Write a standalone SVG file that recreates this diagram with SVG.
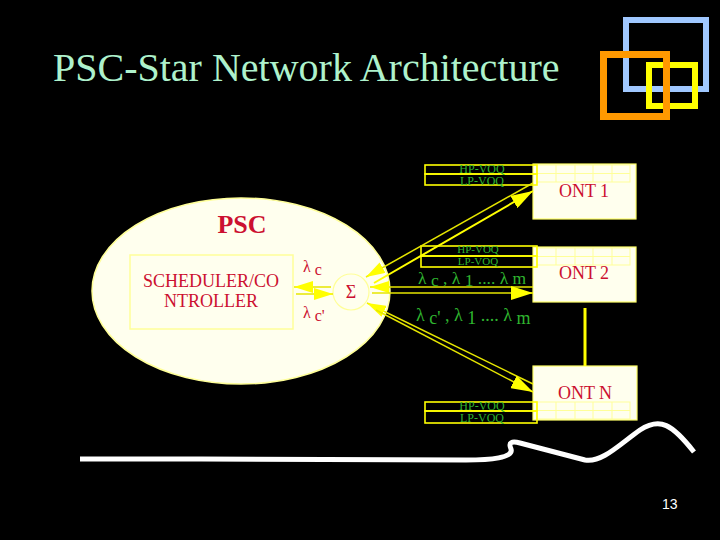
<svg xmlns="http://www.w3.org/2000/svg" width="720" height="540" viewBox="0 0 720 540">
<defs>
<style>
.serif{font-family:"Liberation Serif","Times New Roman",serif}
.red{fill:#cc1030}
.green{fill:#2fb52f}
.voq{fill:none;stroke:#ffff00;stroke-width:1.6}
.voqt{font-family:"Liberation Serif",serif;font-size:12px;fill:#2fb52f;text-anchor:middle}
.ont{fill:#ffffee;stroke:#ffff66;stroke-width:1.2}
.grid{fill:none;stroke:#ffff99;stroke-width:1}
.ontt{font-family:"Liberation Serif",serif;font-size:18px;fill:#cc1030;text-anchor:middle}
.ln{stroke:#e6e600;stroke-width:1.5;fill:none}
.lnb{stroke:#ffff00;stroke-width:2;fill:none}
</style>
<marker id="big" viewBox="0 0 22 14" refX="22" refY="7" markerWidth="22" markerHeight="14" markerUnits="userSpaceOnUse" orient="auto"><path d="M0,0 L22,7 L0,14 z" fill="#ffff00"/></marker>
<marker id="small" viewBox="0 0 19 12" refX="19" refY="6" markerWidth="19" markerHeight="12" markerUnits="userSpaceOnUse" orient="auto"><path d="M0,0 L19,6 L0,12 z" fill="#ffff00"/></marker>
</defs>
<rect width="720" height="540" fill="#000"/>

<g id="title"><text x="53" y="81" class="serif" font-size="40" fill="#aef2cc">PSC-Star Network Architecture</text></g>

<g id="logo" fill="none">
<rect x="626" y="20" width="80" height="69" stroke="#a0c8ff" stroke-width="6"/>
<rect x="649" y="65" width="46" height="41" stroke="#ffff00" stroke-width="6"/>
<rect x="603.5" y="54.5" width="63" height="62" stroke="#ff9900" stroke-width="7"/>
</g>

<g id="psc">
<ellipse cx="241" cy="291" rx="149" ry="93" fill="#ffffee" stroke="#ffff99" stroke-width="1.5"/>
<text x="242" y="233" class="serif red" font-size="26" font-weight="bold" text-anchor="middle">PSC</text>
</g>

<g id="scheduler">
<rect x="130" y="255" width="163" height="74" fill="#ffffee" stroke="#ffff99" stroke-width="1.5"/>
<text x="211" y="287" class="serif red" font-size="18" text-anchor="middle">SCHEDULER/CO</text>
<text x="211" y="307" class="serif red" font-size="18" text-anchor="middle">NTROLLER</text>
</g>

<g id="sigma">
<circle cx="351" cy="292" r="18" fill="#ffffee" stroke="#ffff99" stroke-width="1.2"/>
<text x="351" y="298" class="serif red" font-size="18" text-anchor="middle">Σ</text>
</g>

<g id="ont1">
<rect x="533" y="164" width="103" height="55" class="ont"/>
<rect x="537" y="165" width="93" height="17" class="grid"/>
<path d="M537,173.5H630M556,165V182M575,165V182M593,165V182M612,165V182" class="grid"/>
<text x="584" y="197" class="ontt">ONT 1</text>
</g>
<g id="voq1">
<rect x="425" y="165" width="112" height="9" class="voq"/>
<rect x="425" y="174" width="112" height="11" class="voq"/>
<text x="482" y="172.5" class="voqt">HP-VOQ</text>
<text x="482" y="185" class="voqt">LP-VOQ</text>
</g>

<g id="ont2">
<rect x="533" y="247" width="103" height="55" class="ont"/>
<rect x="537" y="248" width="93" height="17" class="grid"/>
<path d="M537,256.5H630M556,248V265M575,248V265M593,248V265M612,248V265" class="grid"/>
<text x="584" y="279" class="ontt">ONT 2</text>
</g>
<g id="voq2">
<rect x="421" y="246" width="116" height="10" class="voq"/>
<rect x="421" y="256" width="116" height="11" class="voq"/>
<text x="478" y="253" class="voqt" font-size="11" style="font-size:11px">HP-VOQ</text>
<text x="478" y="265" class="voqt" style="font-size:11px">LP-VOQ</text>
</g>

<g id="ontn">
<rect x="533" y="366" width="104" height="54" class="ont"/>
<rect x="537" y="402" width="93" height="17" class="grid"/>
<path d="M537,410.5H630M556,402V419M575,402V419M593,402V419M612,402V419" class="grid"/>
<text x="585" y="399" class="ontt">ONT N</text>
</g>
<g id="voqn">
<rect x="425" y="402" width="112" height="9" class="voq"/>
<rect x="425" y="411" width="112" height="12" class="voq"/>
<text x="482" y="409.5" class="voqt">HP-VOQ</text>
<text x="482" y="422" class="voqt">LP-VOQ</text>
</g>

<g id="connectors">
<line x1="533" y1="183" x2="366" y2="277" class="ln" marker-end="url(#small)"/>
<line x1="374" y1="283" x2="533" y2="191" class="lnb" marker-end="url(#big)"/>
<line x1="533" y1="287" x2="370" y2="287" class="ln" marker-end="url(#small)"/>
<line x1="372" y1="293" x2="533" y2="293" class="ln" marker-end="url(#big)"/>
<line x1="533" y1="384" x2="367" y2="303" class="ln" marker-end="url(#small)"/>
<line x1="376" y1="310" x2="533" y2="392" class="ln" marker-end="url(#big)"/>
<line x1="331" y1="287" x2="294" y2="287" class="ln" marker-end="url(#small)"/>
<line x1="296" y1="294" x2="333" y2="294" class="ln" marker-end="url(#small)"/>
<line x1="585" y1="308" x2="585" y2="366" stroke="#ffff00" stroke-width="3"/>
</g>

<g id="labels">
<text x="303" y="272" class="serif red" font-size="16">λ<tspan dy="3"> c</tspan></text>
<text x="303" y="318" class="serif red" font-size="16">λ<tspan dy="3"> c'</tspan></text>
<text x="418" y="283.5" class="serif green" font-size="17.5">λ<tspan dy="2"> c</tspan><tspan dy="-2"> , λ</tspan><tspan dy="2"> 1</tspan><tspan dy="-2"> .... λ m</tspan></text>
<text x="416" y="321" class="serif green" font-size="18">λ<tspan dy="3"> c'</tspan><tspan dy="-3"> , λ</tspan><tspan dy="3"> 1</tspan><tspan dy="-3"> .... λ</tspan><tspan dy="3"> m</tspan></text>
</g>

<g id="squiggle">
<path d="M80,459 L201,459 L466,460 C490,460 514,458 511,449 C508,442 512,441 520,443 L585,460 C602,463 620,444 640,430 C660,417 672,424 694,452" fill="none" stroke="#fff" stroke-width="5" stroke-linejoin="round"/>
</g>

<g id="page"><text x="662" y="509" font-family="Liberation Sans, Arial, sans-serif" font-size="14" fill="#fff">13</text></g>
</svg>
